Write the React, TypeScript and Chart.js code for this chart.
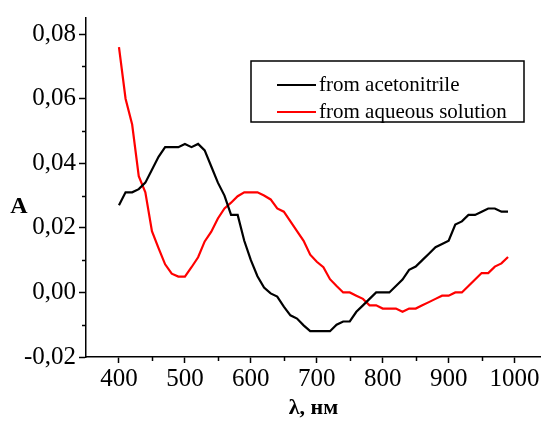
import React, { useEffect, useRef } from "react";
import { Chart, registerables } from "chart.js";

Chart.register(...registerables);

const wavelengths = [
  400, 410, 420, 430, 440, 450, 460, 470, 480, 490,
  500, 510, 520, 530, 540, 550, 560, 570, 580, 590,
  600, 610, 620, 630, 640, 650, 660, 670, 680, 690,
  700, 710, 720, 730, 740, 750, 760, 770, 780, 790,
  800, 810, 820, 830, 840, 850, 860, 870, 880, 890,
  900, 910, 920, 930, 940, 950, 960, 970, 980, 990,
];

const acetonitrile = [
  0.027, 0.031, 0.031, 0.032, 0.034, 0.038, 0.042, 0.045, 0.045, 0.045,
  0.046, 0.045, 0.046, 0.044, 0.039, 0.034, 0.030, 0.024, 0.024, 0.016,
  0.010, 0.005, 0.0015, -0.0003, -0.0013, -0.0044, -0.0071, -0.0081, -0.0102, -0.012,
  -0.012, -0.012, -0.012, -0.010, -0.009, -0.009, -0.006, -0.004, -0.002, 0.000,
  0.000, 0.000, 0.002, 0.004, 0.007, 0.008, 0.010, 0.012, 0.014, 0.015,
  0.016, 0.021, 0.022, 0.024, 0.024, 0.025, 0.026, 0.026, 0.025, 0.025,
];

const aqueous = [
  0.076, 0.060, 0.052, 0.036, 0.031, 0.019, 0.0137, 0.0087, 0.0058, 0.0049,
  0.0049, 0.0078, 0.0109, 0.0158, 0.0188, 0.0229, 0.026, 0.0278, 0.0298, 0.031,
  0.031, 0.031, 0.030, 0.0288, 0.026, 0.025, 0.022, 0.019, 0.016, 0.0117,
  0.0095, 0.0078, 0.0041, 0.002, 0.000, 0.000, -0.001, -0.002, -0.004, -0.004,
  -0.005, -0.005, -0.005, -0.006, -0.005, -0.005, -0.004, -0.003, -0.002, -0.001,
  -0.001, 0.000, 0.000, 0.002, 0.004, 0.006, 0.006, 0.008, 0.009, 0.011,
];

const seriesLabels = ["from acetonitrile", "from aqueous solution"];
const seriesColors = ["#000000", "#ff0000"];

const xMajorTicks = [400, 500, 600, 700, 800, 900, 1000];
const xMinorTicks = [450, 550, 650, 750, 850, 950];
const yMajorTicks = [-0.02, 0.0, 0.02, 0.04, 0.06, 0.08];
const yMinorTicks = [-0.01, 0.01, 0.03, 0.05, 0.07];

const yAxisTitle = "A";
const xAxisTitle = "λ, нм";

const SERIF = "'Liberation Serif', 'Times New Roman', serif";

Chart.defaults.font.family = SERIF;
Chart.defaults.color = "#000";

const decorPlugin = {
  id: "decor",
  afterDraw(chart: any) {
    const { ctx, chartArea } = chart;
    const xs = chart.scales.x;
    const ys = chart.scales.y;
    ctx.save();
    ctx.strokeStyle = "#000";
    ctx.lineWidth = 1.5;
    for (const v of xMinorTicks) {
      const px = Math.round(xs.getPixelForValue(v)) + 0.5;
      ctx.beginPath();
      ctx.moveTo(px, chartArea.bottom);
      ctx.lineTo(px, chartArea.bottom + 4);
      ctx.stroke();
    }
    for (const v of yMinorTicks) {
      const py = Math.round(ys.getPixelForValue(v)) + 0.5;
      ctx.beginPath();
      ctx.moveTo(chartArea.left, py);
      ctx.lineTo(chartArea.left - 4, py);
      ctx.stroke();
    }
    ctx.fillStyle = "#000";
    ctx.font = `bold 24px ${SERIF}`;
    ctx.textAlign = "center";
    ctx.textBaseline = "middle";
    ctx.fillText(yAxisTitle, 19, chartArea.top + 189);

    const bx = chartArea.left + 165;
    const by = chartArea.top + 43;
    const bw = 273;
    const bh = 61;
    ctx.lineWidth = 1.5;
    ctx.strokeRect(bx, by, bw, bh);
    ctx.font = `21px ${SERIF}`;
    ctx.textAlign = "left";
    ctx.textBaseline = "middle";
    const rows = [24, 51];
    chart.data.datasets.forEach((ds: any, i: number) => {
      const ly = by + rows[i];
      ctx.strokeStyle = ds.borderColor;
      ctx.lineWidth = 2;
      ctx.beginPath();
      ctx.moveTo(bx + 26, ly);
      ctx.lineTo(bx + 65, ly);
      ctx.stroke();
      ctx.fillStyle = "#000";
      ctx.fillText(ds.label, bx + 68, ly);
    });
    ctx.restore();
  },
};

export default function App() {
  const canvasRef = useRef<HTMLCanvasElement | null>(null);

  useEffect(() => {
    document.body.style.margin = "0";
    const canvas = canvasRef.current;
    if (!canvas) return;
    const chart = new Chart(canvas, {
      type: "line",
      data: {
        datasets: [acetonitrile, aqueous].map((arr, i) => ({
          label: seriesLabels[i],
          data: wavelengths.map((w, j) => ({ x: w, y: arr[j] })),
          borderColor: seriesColors[i],
          backgroundColor: seriesColors[i],
          borderWidth: 2.2,
          pointRadius: 0,
          tension: 0,
          fill: false,
        })),
      },
      options: {
        responsive: false,
        animation: false,
        devicePixelRatio: 1,
        layout: { padding: { top: 13, right: 0, left: 0, bottom: 0 } },
        plugins: {
          legend: { display: false },
          tooltip: { enabled: false },
        },
        scales: {
          x: {
            type: "linear",
            min: 350,
            max: 1040,
            afterBuildTicks: (scale: any) => {
              scale.ticks = xMajorTicks.map((v) => ({ value: v }));
            },
            afterFit: (scale: any) => {
              scale.height = 65;
            },
            grid: {
              drawOnChartArea: false,
              drawTicks: true,
              tickLength: 6,
              tickColor: "#000",
              tickWidth: 1.5,
            },
            border: { color: "#000", width: 1.5 },
            ticks: {
              color: "#000",
              padding: 1,
              maxRotation: 0,
              font: { family: SERIF, size: 25 },
              callback: (v: any) => String(v),
            },
            title: {
              display: true,
              text: xAxisTitle,
              color: "#000",
              font: { family: SERIF, size: 22, weight: "bold" },
              padding: { top: 0, bottom: 0 },
            },
          },
          y: {
            type: "linear",
            min: -0.02,
            max: 0.085,
            afterBuildTicks: (scale: any) => {
              scale.ticks = yMajorTicks.map((v) => ({ value: v }));
            },
            afterFit: (scale: any) => {
              scale.width = 86;
            },
            grid: {
              drawOnChartArea: false,
              drawTicks: true,
              tickLength: 7,
              tickColor: "#000",
              tickWidth: 1.5,
            },
            border: { color: "#000", width: 1.5 },
            ticks: {
              color: "#000",
              padding: 3,
              font: { family: SERIF, size: 25 },
              callback: (v: any) => Number(v).toFixed(2).replace(".", ","),
            },
          },
        },
      },
      plugins: [decorPlugin],
    });
    return () => chart.destroy();
  }, []);

  return <canvas ref={canvasRef} width={541} height={422} style={{ display: "block" }} />;
}
